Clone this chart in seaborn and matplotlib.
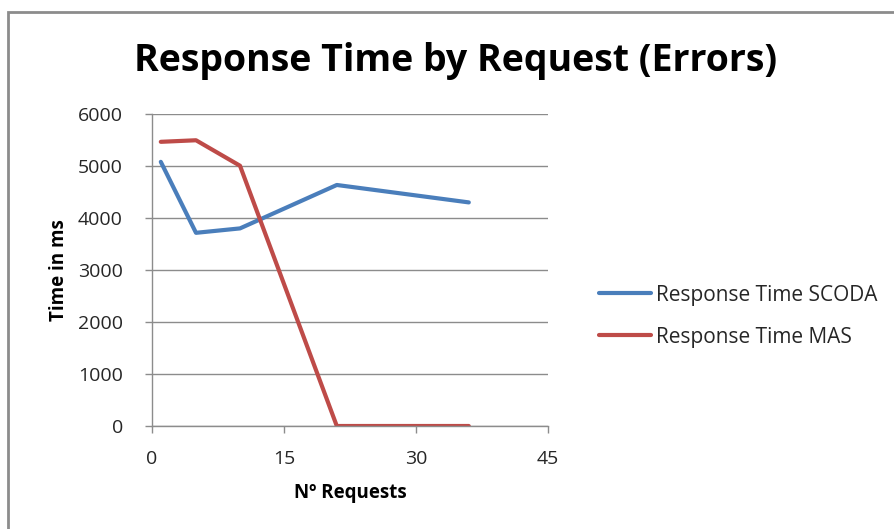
import pandas as pd
import matplotlib.pyplot as plt
import seaborn as sns
from matplotlib.patches import Rectangle

# Data
requests = [1, 5, 10, 21, 36]
scoda_ms = [5080, 3715, 3800, 4635, 4300]
mas_ms = [5465, 5495, 5005, 0, 0]
series_names = ["Response Time SCODA", "Response Time MAS"]

df = pd.DataFrame({
    "Requests": requests * 2,
    "Time": scoda_ms + mas_ms,
    "Series": [series_names[0]] * len(requests) + [series_names[1]] * len(requests),
})

sns.set_style("white")
plt.rcParams['font.family'] = ['Open Sans', 'DejaVu Sans']

fig = plt.figure(figsize=(8.95, 5.29), dpi=100)
ax = fig.add_axes([152 / 895, 1 - 426 / 529, 396 / 895, 312 / 529])

palette = {series_names[0]: "#4A7EBB", series_names[1]: "#BE4B48"}
sns.lineplot(data=df, x="Requests", y="Time", hue="Series", palette=palette,
             linewidth=3, ax=ax, legend=False, solid_capstyle="round")

ax.set_xlim(0, 45)
ax.set_ylim(0, 6000)
ax.set_xticks([0, 15, 30, 45])
ax.set_yticks(range(0, 6001, 1000))
ax.yaxis.grid(True, color="#8c8c8c", linewidth=1)
ax.set_axisbelow(True)
for s in ["top", "right"]:
    ax.spines[s].set_visible(False)
for s in ["left", "bottom"]:
    ax.spines[s].set_color("#8c8c8c")
    ax.spines[s].set_linewidth(1)
ax.tick_params(axis="both", which="major", direction="out", length=5, width=1,
               color="#8c8c8c", labelsize=14, labelcolor="#262626")
ax.tick_params(axis="x", pad=12)
ax.tick_params(axis="y", pad=16)
ax.tick_params(bottom=True, left=True)

ax.set_xlabel("Nº Requests", fontsize=13.5, fontweight="bold", labelpad=11, color="black")
ax.set_ylabel("Time in ms", fontsize=13.5, fontweight="bold", labelpad=6, color="black")
fig.text(456 / 895, 1 - 61 / 529, "Response Time by Request (Errors)",
         fontsize=27, fontweight="bold", ha="center", va="center", color="black")

# legend
handles = [plt.Line2D([], [], color=palette[n], linewidth=3, solid_capstyle="round") for n in series_names]
leg = fig.legend(handles, series_names, loc="upper left", bbox_to_anchor=(580 / 895, 1 - 266 / 529),
                 frameon=False, fontsize=15, handlelength=2.5, handletextpad=0.24, labelspacing=1.0)
for t in leg.get_texts():
    t.set_color("#262626")

# chart frame
fig.patches.append(Rectangle((8 / 895, -0.1), 1.2, 1 - 12 / 529 + 0.1, transform=fig.transFigure,
                             fill=False, edgecolor="#8c8c8c", linewidth=2))

fig.savefig("out.png", dpi=100)
